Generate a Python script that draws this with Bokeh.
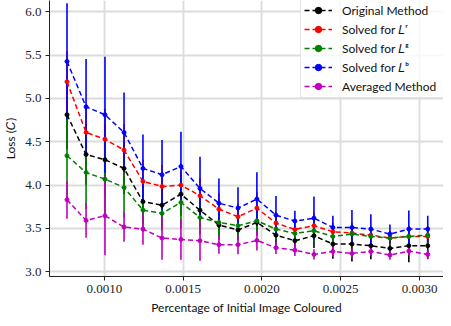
from bokeh.plotting import figure
from bokeh.models import (FixedTicker, PrintfTickFormatter, Legend, LegendItem,
                          ColumnDataSource, Range1d)
from bokeh.embed import file_html
from bokeh.resources import INLINE

# ---- data ----
pct = [0.000763, 0.000884, 0.001004, 0.001125, 0.001245, 0.001366, 0.001486,
       0.001607, 0.001727, 0.001848, 0.001968, 0.002089, 0.002209, 0.002330,
       0.002450, 0.002571, 0.002691, 0.002812, 0.002932, 0.003052]

orig = [4.812, 4.354, 4.293, 4.193, 3.809, 3.769, 3.896, 3.710, 3.540, 3.483,
        3.570, 3.423, 3.359, 3.416, 3.320, 3.320, 3.301, 3.270, 3.301, 3.301]
orig_err = [0.40, 0.35, 0.40, 0.30, 0.25, 0.25, 0.25, 0.20, 0.15, 0.12,
            0.15, 0.12, 0.10, 0.14, 0.17, 0.20, 0.155, 0.085, 0.19, 0.15]

sol_r = [5.193, 4.608, 4.530, 4.404, 4.043, 3.985, 4.000, 3.878, 3.723, 3.636,
         3.735, 3.562, 3.489, 3.532, 3.463, 3.447, 3.423, 3.389, 3.408, 3.408]
sol_r_err = [0.35, 0.30, 0.35, 0.30, 0.25, 0.25, 0.25, 0.20, 0.18, 0.15,
             0.18, 0.13, 0.08, 0.15, 0.10, 0.12, 0.10, 0.08, 0.12, 0.10]

sol_g = [4.339, 4.146, 4.069, 3.973, 3.712, 3.674, 3.800, 3.627, 3.570, 3.532,
         3.589, 3.493, 3.443, 3.474, 3.408, 3.435, 3.408, 3.389, 3.408, 3.423]
sol_g_err = [0.50, 0.42, 0.45, 0.35, 0.25, 0.20, 0.30, 0.20, 0.20, 0.17,
             0.15, 0.12, 0.10, 0.12, 0.10, 0.12, 0.10, 0.08, 0.10, 0.10]

sol_b = [5.427, 4.904, 4.812, 4.608, 4.193, 4.120, 4.216, 3.962, 3.792, 3.735,
         3.839, 3.654, 3.585, 3.619, 3.512, 3.512, 3.493, 3.435, 3.493, 3.493]
sol_b_err = [0.67, 0.55, 0.67, 0.46, 0.39, 0.40, 0.40, 0.365, 0.285, 0.24,
             0.31, 0.22, 0.12, 0.25, 0.135, 0.20, 0.17, 0.11, 0.215, 0.155]

avg = [3.832, 3.593, 3.647, 3.516, 3.493, 3.389, 3.374, 3.359, 3.313, 3.313,
       3.362, 3.278, 3.250, 3.201, 3.235, 3.212, 3.235, 3.193, 3.239, 3.201]
avg_err = [0.22, 0.20, 0.455, 0.17, 0.18, 0.25, 0.235, 0.23, 0.105, 0.11,
           0.115, 0.073, 0.067, 0.06, 0.06, 0.055, 0.055, 0.055, 0.055, 0.055]

labels = ["Original Method", "Solved for \U0001D43F\u02B3", "Solved for \U0001D43F\u1D4D",
          "Solved for \U0001D43F\u1D47", "Averaged Method"]
x_ticks = [0.0010, 0.0015, 0.0020, 0.0025, 0.0030]
y_ticks = [3.0, 3.5, 4.0, 4.5, 5.0, 5.5, 6.0]

series = [(orig, orig_err, "#000000"), (sol_r, sol_r_err, "#ff0000"),
          (sol_g, sol_g_err, "#008000"), (sol_b, sol_b_err, "#0000ff"),
          (avg, avg_err, "#bf00bf")]

p = figure(width=443, height=318, output_backend="svg", toolbar_location=None,
           x_range=Range1d(0.000652, 0.003152), y_range=Range1d(2.946, 6.13),
           min_border_left=43, min_border_right=0, min_border_top=0,
           min_border_bottom=42)
p.outline_line_color = None
p.background_fill_color = "white"
p.border_fill_color = "white"

sources = []
for vals, errs, col in series:
    src = ColumnDataSource(dict(
        x=pct, y=vals,
        lo=[v - e for v, e in zip(vals, errs)],
        hi=[v + e for v, e in zip(vals, errs)]))
    sources.append(src)

# error bars first (under all lines)
for src, (vals, errs, col) in zip(sources, series):
    p.segment(x0="x", y0="lo", x1="x", y1="hi", source=src,
              line_color=col, line_width=1.6)

items = []
for src, (vals, errs, col), lab in zip(sources, series, labels):
    lr = p.line("x", "y", source=src, line_color=col, line_width=1.5,
                line_dash="5 3")
    dr = p.scatter("x", "y", source=src, size=4, marker="circle",
                   fill_color=col, line_color=col)
    items.append(LegendItem(label=lab, renderers=[lr, dr]))

legend = Legend(items=items, location=(251, 178))
legend.glyph_width = 28
legend.glyph_height = 16
legend.label_height = 16
legend.label_width = 100
legend.spacing = 3
legend.padding = 3
legend.margin = 0
legend.label_standoff = 10
legend.label_text_font = "Lato"
legend.label_text_font_size = "12px"
legend.label_text_color = "#111111"
legend.border_line_color = "#cccccc"
legend.border_line_width = 1
legend.border_radius = 3
legend.background_fill_color = "white"
legend.background_fill_alpha = 0.8
p.add_layout(legend)

for ax in (p.xaxis, p.yaxis):
    ax.axis_line_color = "#222222"
    ax.major_tick_line_color = "#222222"
    ax.major_tick_out = 4
    ax.major_tick_in = 0
    ax.minor_tick_line_color = None
    ax.major_label_text_font = "Liberation Serif"
    ax.major_label_text_font_size = "13px"
    ax.major_label_text_color = "#222222"
    ax.major_label_standoff = 4
    ax.axis_label_text_font = "Lato"
    ax.axis_label_text_font_size = "12px"
    ax.axis_label_text_font_style = "normal"
    ax.axis_label_text_color = "#111111"
    ax.axis_label_standoff = 4

p.xaxis.ticker = FixedTicker(ticks=x_ticks, minor_ticks=[])
p.yaxis.ticker = FixedTicker(ticks=y_ticks, minor_ticks=[])
p.xaxis.formatter = PrintfTickFormatter(format="%.4f")
p.yaxis.formatter = PrintfTickFormatter(format="%.1f")
p.xaxis.axis_label = "Percentage of Initial Image Coloured"
p.yaxis.axis_label = "Loss (\U0001D436)"

p.xgrid.ticker = FixedTicker(ticks=x_ticks)
p.ygrid.ticker = FixedTicker(ticks=y_ticks)
for g in (p.xgrid, p.ygrid):
    g.grid_line_color = "#dcdcdc"
    g.grid_line_width = 1.8

open("out.html", "w").write(file_html(p, INLINE))
